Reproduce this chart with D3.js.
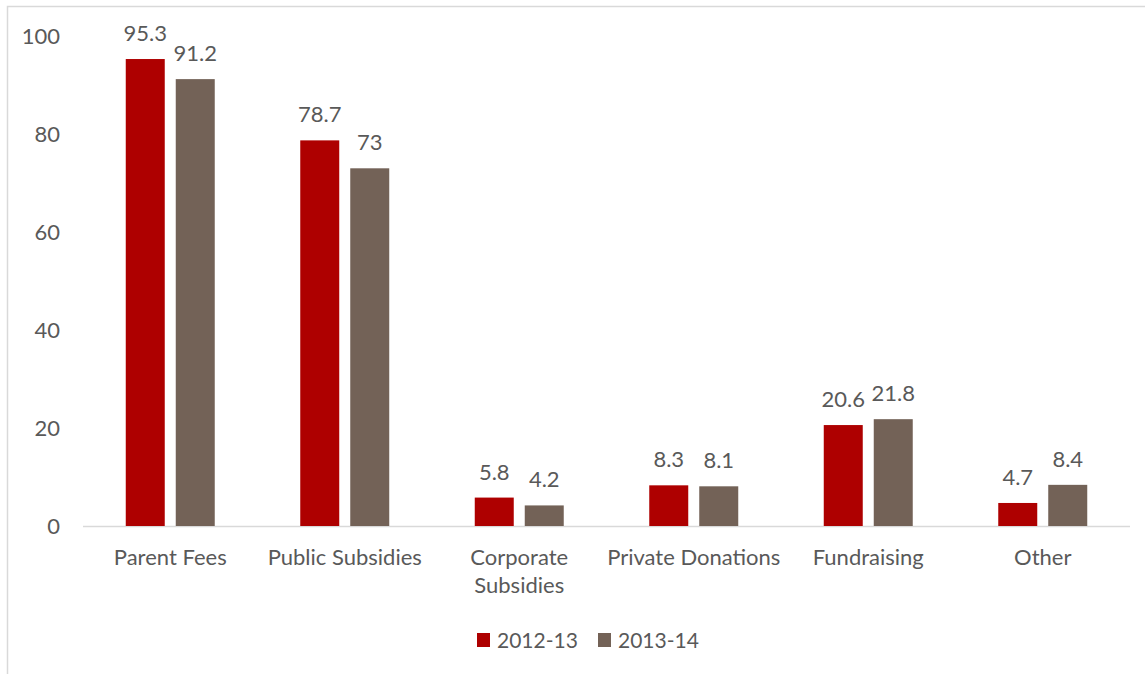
<!DOCTYPE html>
<html><head><meta charset="utf-8">
<script src="https://cdn.jsdelivr.net/npm/d3@7"></script>
<style>body{margin:0;background:#fff}svg{display:block}text{font-family:Lato,"Open Sans",sans-serif;fill:#595959}</style>
</head><body><svg id="c" width="1145" height="674"></svg>
<script>
const categories = ["Parent Fees","Public Subsidies","Corporate Subsidies","Private Donations","Fundraising","Other"];
const seriesNames = ["2012-13","2013-14"];
const values2012 = [95.3,78.7,5.8,8.3,20.6,4.7];
const values2013 = [91.2,73,4.2,8.1,21.8,8.4];
const yTicks = [0,20,40,60,80,100];
const colors = ["#AE0000","#736257"];

const svg = d3.select("#c");
svg.append("rect").attr("x",7.5).attr("y",6.5).attr("width",1200).attr("height",700)
  .attr("fill","none").attr("stroke","#d9d9d9").attr("stroke-width",1.5);

const x0 = d3.scaleBand().domain(categories).range([83,1130]).paddingInner(0.49).paddingOuter(0.245);
const x1 = d3.scaleBand().domain(seriesNames).range([0,x0.bandwidth()]).paddingInner(0.22);
const y = d3.scaleLinear().domain([0,100]).range([526,36]);

const series = [values2012, values2013];
const data = categories.map((c,i)=>({cat:c, vals:seriesNames.map((s,j)=>({s, v:series[j][i], j}))}));

// y axis labels
const yAxis = d3.axisLeft(y).tickValues(yTicks).tickSize(0).tickPadding(0);
const ya = svg.append("g").attr("transform","translate(60,0)").call(yAxis);
ya.select(".domain").remove();
ya.selectAll("text").style("font-size","22px").style("fill","#595959").attr("dy","0.35em").style("font-family","Lato");

// x baseline
svg.append("line").attr("x1",83).attr("x2",1130).attr("y1",y(0)+0.5).attr("y2",y(0)+0.5)
  .attr("stroke","#d9d9d9").attr("stroke-width",1.5);

const g = svg.append("g").selectAll("g").data(data).join("g")
  .attr("transform",d=>`translate(${x0(d.cat)},0)`);
g.selectAll("rect").data(d=>d.vals).join("rect")
  .attr("x",d=>x1(d.s)).attr("width",x1.bandwidth())
  .attr("y",d=>y(d.v)).attr("height",d=>y(0)-y(d.v))
  .attr("fill",d=>colors[d.j]);
g.selectAll("text.v").data(d=>d.vals).join("text").attr("class","v")
  .attr("x",d=>x1(d.s)+x1.bandwidth()/2).attr("y",d=>y(d.v)-18)
  .attr("text-anchor","middle").style("font-size","22px").text(d=>d.v);

// x labels
const xl = svg.append("g").selectAll("text").data(categories).join("text")
  .attr("x",d=>x0(d)+x0.bandwidth()/2).attr("y",565)
  .attr("text-anchor","middle").style("font-size","22px");
xl.each(function(d){
  const t = d3.select(this);
  if (d==="Corporate Subsidies"){
    t.append("tspan").attr("x",t.attr("x")).attr("dy",0).text("Corporate");
    t.append("tspan").attr("x",t.attr("x")).attr("dy",28).text("Subsidies");
  } else t.text(d);
});

// legend
const legX = [477,598];
const leg = svg.append("g").selectAll("g").data(seriesNames).join("g")
  .attr("transform",(d,i)=>`translate(${legX[i]},633)`);
leg.append("rect").attr("width",13).attr("height",14).attr("fill",(d,i)=>colors[i]);
leg.append("text").attr("x",20).attr("y",14.5).style("font-size","21px").text(d=>d);
</script></body></html>
